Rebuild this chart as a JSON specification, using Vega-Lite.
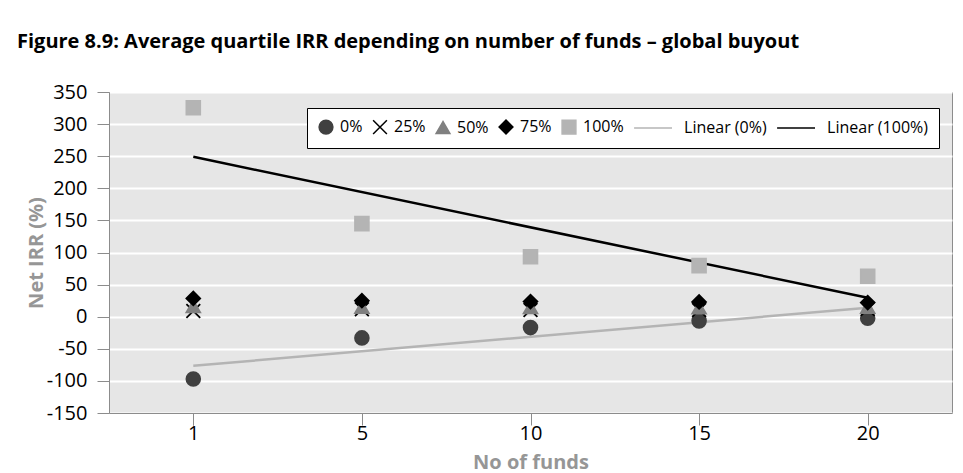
{
  "$schema": "https://vega.github.io/schema/vega-lite/v6.json",
  "width": 843,
  "height": 321,
  "autosize": {"type": "none"},
  "padding": {"left": 109, "top": 92, "right": 11, "bottom": 60},
  "background": "white",
  "title": {
    "text": "Figure 8.9: Average quartile IRR depending on number of funds – global buyout",
    "anchor": "start",
    "frame": "group",
    "dx": -92,
    "offset": 30,
    "font": "Open Sans",
    "fontSize": 20,
    "fontWeight": "bold",
    "color": "#000000"
  },
  "datasets": {
    "points": [
      {"series": "0%", "funds": "1", "irr": -97},
      {"series": "0%", "funds": "5", "irr": -33},
      {"series": "0%", "funds": "10", "irr": -17},
      {"series": "0%", "funds": "15", "irr": -6.5},
      {"series": "0%", "funds": "20", "irr": -2.5},
      {"series": "25%", "funds": "1", "irr": 9},
      {"series": "25%", "funds": "5", "irr": 11.5},
      {"series": "25%", "funds": "10", "irr": 10.5},
      {"series": "25%", "funds": "15", "irr": 10.5},
      {"series": "25%", "funds": "20", "irr": 12},
      {"series": "50%", "funds": "1", "irr": 16},
      {"series": "50%", "funds": "5", "irr": 15},
      {"series": "50%", "funds": "10", "irr": 14.5},
      {"series": "50%", "funds": "15", "irr": 14},
      {"series": "50%", "funds": "20", "irr": 15},
      {"series": "75%", "funds": "1", "irr": 28.5},
      {"series": "75%", "funds": "5", "irr": 25},
      {"series": "75%", "funds": "10", "irr": 23.5},
      {"series": "75%", "funds": "15", "irr": 23},
      {"series": "75%", "funds": "20", "irr": 22},
      {"series": "100%", "funds": "1", "irr": 325.5},
      {"series": "100%", "funds": "5", "irr": 145},
      {"series": "100%", "funds": "10", "irr": 93.5},
      {"series": "100%", "funds": "15", "irr": 79.5},
      {"series": "100%", "funds": "20", "irr": 63}
    ],
    "trends": [
      {"series": "Linear (0%)", "funds": "1", "irr": -76.5},
      {"series": "Linear (0%)", "funds": "20", "irr": 14},
      {"series": "Linear (100%)", "funds": "1", "irr": 249},
      {"series": "Linear (100%)", "funds": "20", "irr": 29.5}
    ]
  },
  "layer": [
    {
      "mark": {"type": "rule", "stroke": "#808080", "strokeWidth": 1.5},
      "encoding": {"y": {"datum": 0, "type": "quantitative"}}
    },
    {
      "data": {"name": "trends"},
      "mark": {"type": "line", "strokeWidth": 2.5},
      "encoding": {
        "x": {"field": "funds", "type": "nominal", "sort": null, "title": "No of funds",
              "scale": {"domain": ["1", "5", "10", "15", "20"], "paddingInner": 0, "paddingOuter": 0}},
        "y": {"field": "irr", "type": "quantitative", "title": "Net IRR (%)",
              "scale": {"domain": [-150, 350], "nice": false, "zero": false}},
        "stroke": {"field": "series", "type": "nominal",
          "scale": {"domain": ["0%", "25%", "50%", "75%", "100%", "Linear (0%)", "Linear (100%)"],
                    "range": ["#404040", "#000000", "#808080", "#000000", "#b4b4b4", "#b4b4b4", "#000000"]},
          "legend": {"title": null, "orient": "none", "legendX": 198, "legendY": 16, "direction": "horizontal",
                     "labelExpr": "(indexof(datum.label, 'Linear') == 0 ? '\\u200b\\u00a0\\u00a0\\u00a0\\u00a0\\u00a0\\u00a0\\u00a0' : '') + datum.label"}
        }
      }
    },
    {
      "data": {"name": "points"},
      "mark": {"type": "point", "filled": true, "size": 190, "strokeWidth": 1.8, "opacity": 1},
      "encoding": {
        "x": {"field": "funds", "type": "nominal", "sort": null, "title": "No of funds",
              "scale": {"domain": ["1", "5", "10", "15", "20"], "paddingInner": 0, "paddingOuter": 0}},
        "y": {"field": "irr", "type": "quantitative", "title": "Net IRR (%)",
              "scale": {"domain": [-150, 350], "nice": false, "zero": false}},
        "fill": {"field": "series", "type": "nominal",
          "scale": {"domain": ["0%", "25%", "50%", "75%", "100%", "Linear (0%)", "Linear (100%)"],
                    "range": ["#404040", "transparent", "#808080", "#000000", "#b4b4b4", "transparent", "transparent"]},
          "legend": {"title": null, "orient": "none", "legendX": 198, "legendY": 16, "direction": "horizontal",
                     "labelExpr": "(indexof(datum.label, 'Linear') == 0 ? '\\u200b\\u00a0\\u00a0\\u00a0\\u00a0\\u00a0\\u00a0\\u00a0' : '') + datum.label"}
        },
        "stroke": {"field": "series", "type": "nominal",
          "legend": {"title": null, "orient": "none", "legendX": 198, "legendY": 16, "direction": "horizontal",
                     "labelExpr": "(indexof(datum.label, 'Linear') == 0 ? '\\u200b\\u00a0\\u00a0\\u00a0\\u00a0\\u00a0\\u00a0\\u00a0' : '') + datum.label"}
        },
        "shape": {"field": "series", "type": "nominal",
          "scale": {"domain": ["0%", "25%", "50%", "75%", "100%", "Linear (0%)", "Linear (100%)"],
                    "range": ["circle", "M-1,-1L1,1M-1,1L1,-1", "triangle-up", "diamond", "square", "M-1,0L4.5,0", "M-1,0L4.5,0"]},
          "legend": {"title": null, "orient": "none", "legendX": 198, "legendY": 16, "direction": "horizontal",
                     "labelExpr": "(indexof(datum.label, 'Linear') == 0 ? '\\u200b\\u00a0\\u00a0\\u00a0\\u00a0\\u00a0\\u00a0\\u00a0' : '') + datum.label"}
        }
      }
    }
  ],
  "config": {
    "font": "Open Sans",
    "view": {"fill": "#e6e6e6", "stroke": "#8c8c8c", "strokeWidth": 1},
    "axis": {
      "domainColor": "#8c8c8c",
      "tickColor": "#8c8c8c",
      "tickSize": 12,
      "labelFont": "Open Sans",
      "labelFontSize": 20,
      "labelColor": "#000000",
      "titleFont": "Open Sans",
      "titleFontSize": 20,
      "titleFontWeight": "bold",
      "titleColor": "#969696"
    },
    "axisX": {"labelAngle": 0, "tickBand": "extent", "labelPadding": -2, "titlePadding": 9, "grid": false},
    "axisY": {
      "values": [-150, -100, -50, 0, 50, 100, 150, 200, 250, 300, 350],
      "labelExpr": "datum.value < 0 ? '-' + abs(datum.value) : datum.label",
      "labelPadding": 10,
      "titlePadding": 0,
      "grid": true,
      "gridColor": "#ffffff",
      "gridWidth": 2
    },
    "legend": {
      "strokeColor": "#000000",
      "fillColor": "#ffffff",
      "padding": 11,
      "labelFont": "Open Sans",
      "labelFontSize": 16,
      "labelColor": "#000000",
      "labelOffset": 6,
      "columnPadding": 7,
      "symbolSize": 190
    }
  }
}
